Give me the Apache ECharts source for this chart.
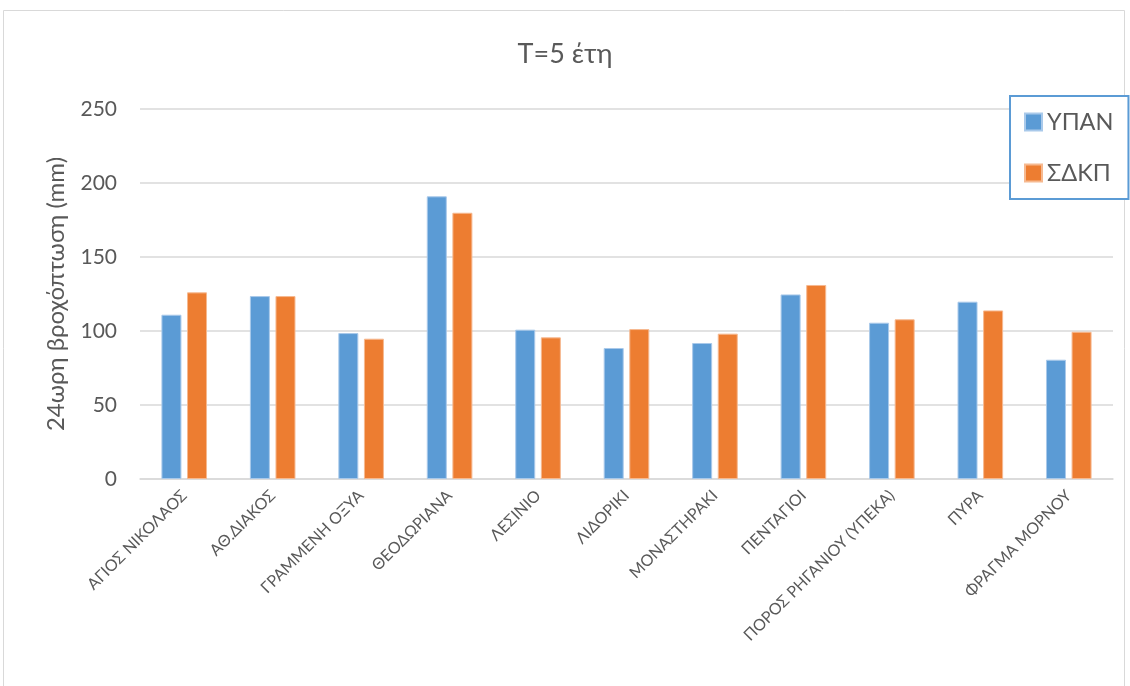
<!DOCTYPE html>
<html>
<head>
<meta charset="utf-8">
<script src="https://cdn.jsdelivr.net/npm/echarts@6/dist/echarts.min.js"></script>
<style>
html,body{margin:0;padding:0;background:#fff;}
#c{width:1130px;height:686px;}
</style>
</head>
<body>
<div id="c"></div>
<script>
const categories = ["ΑΓΙΟΣ ΝΙΚΟΛΑΟΣ","ΑΘ.ΔΙΑΚΟΣ","ΓΡΑΜΜΕΝΗ ΟΞΥΑ","ΘΕΟΔΩΡΙΑΝΑ","ΛΕΣΙΝΙΟ","ΛΙΔΟΡΙΚΙ","ΜΟΝΑΣΤΗΡΑΚΙ","ΠΕΝΤΑΓΙΟΙ","ΠΟΡΟΣ ΡΗΓΑΝΙΟΥ (ΥΠΕΚΑ)","ΠΥΡΑ","ΦΡΑΓΜΑ ΜΟΡΝΟΥ"];
const ypan = [111, 123.6, 98.6, 191, 100.9, 88.5, 91.9, 124.7, 105.6, 119.8, 80.6];
const sdkp = [126.1, 123.6, 94.8, 179.9, 95.7, 101.3, 98.2, 131.1, 107.9, 113.9, 99.5];
const seriesNames = ["ΥΠΑΝ","ΣΔΚΠ"];
const titleText = "Τ=5 έτη";
const yAxisTitle = "24ωρη βροχόπτωση (mm)";

const FONT = "Lato, 'Open Sans', sans-serif";
const chart = echarts.init(document.getElementById('c'), null, {renderer:'canvas'});
chart.setOption({
  animation:false,
  backgroundColor:'#fff',
  graphic:[{type:'rect', shape:{x:3.5,y:10.5,width:1121,height:690}, style:{fill:'none',stroke:'#d9d9d9',lineWidth:1}, silent:true, z:-10}],
  title:{text:titleText, left:'center', top:36, textStyle:{fontFamily:FONT, fontSize:27, fontWeight:'normal', color:'#595959'}},
  legend:{
    orient:'vertical', left:1010, top:96,
    padding:[14,15,14,14], itemGap:27,
    itemWidth:17, itemHeight:17, icon:'rect',
    borderColor:'#5b9bd5', borderWidth:2, backgroundColor:'#fff',
    textStyle:{fontFamily:FONT, fontSize:23.5, lineHeight:24, color:'#595959'},
    data:seriesNames
  },
  grid:{left:140, right:17, top:109, bottom:207, containLabel:false},
  xAxis:{
    type:'category', data:categories,
    axisLine:{lineStyle:{color:'#d9d9d9', width:1.5}},
    axisTick:{show:false},
    axisLabel:{rotate:45, interval:0, fontFamily:FONT, fontSize:16, color:'#595959', margin:14}
  },
  yAxis:{
    type:'value', min:0, max:250, interval:50,
    name:yAxisTitle, nameLocation:'middle', nameGap:72,
    nameTextStyle:{fontFamily:FONT, fontSize:24, color:'#595959'},
    axisLine:{show:false}, axisTick:{show:false},
    axisLabel:{fontFamily:FONT, fontSize:21, color:'#595959', margin:23},
    splitLine:{lineStyle:{color:'#d9d9d9', width:1.5}}
  },
  series:[
    {name:seriesNames[0], type:'bar', data:ypan, barWidth:20, barGap:'28%',
     itemStyle:{color:'#5b9bd5', borderColor:'#a9c9ea', borderWidth:1}},
    {name:seriesNames[1], type:'bar', data:sdkp, barWidth:20,
     itemStyle:{color:'#ed7d31', borderColor:'#f6b990', borderWidth:1}}
  ]
});
</script>
</body>
</html>
